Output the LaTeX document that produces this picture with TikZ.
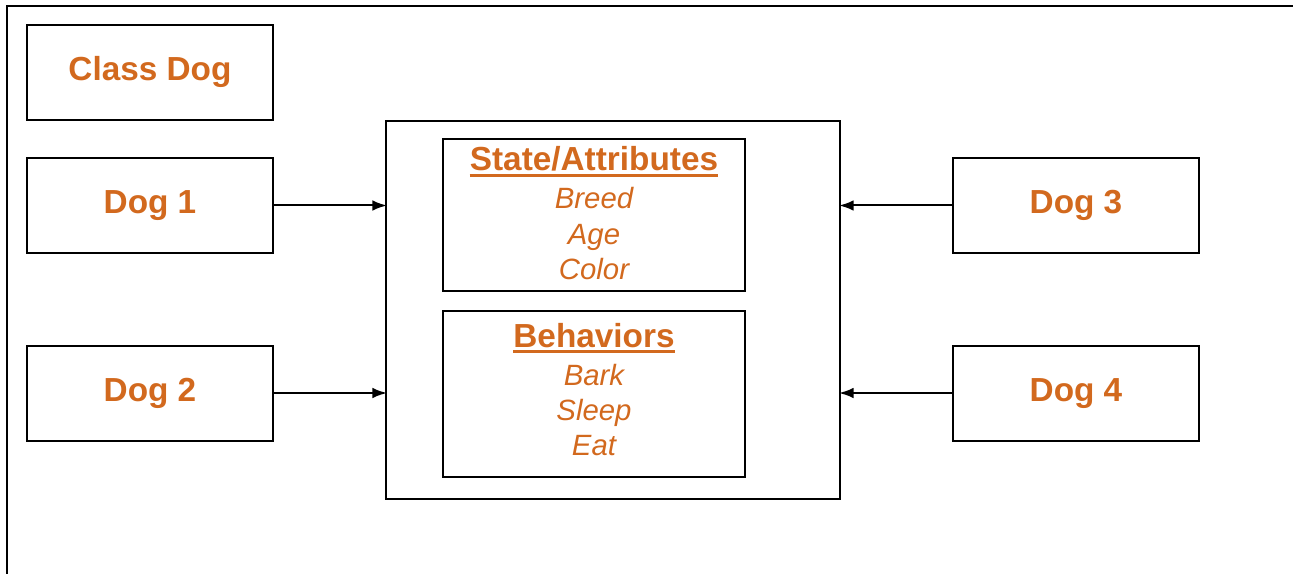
\documentclass[tikz,border=0pt]{standalone}
\usepackage{fontspec}
\setmainfont{Liberation Sans}
\usetikzlibrary{arrows.meta}
\definecolor{dogorange}{HTML}{D2691E}
\tikzset{
  box/.style={draw=black, line width=1.5pt, inner sep=0pt},
  dogbox/.style={box, minimum width=246*0.75pt, minimum height=95*0.75pt},
  dogname/.style={text=dogorange, font=\fontsize{25}{29}\selectfont\bfseries, inner sep=0pt, anchor=base},
  title/.style={text=dogorange, font=\fontsize{25}{29}\selectfont\bfseries, inner sep=0pt, anchor=base},
  item/.style={text=dogorange, font=\fontsize{22}{26}\selectfont\itshape, inner sep=0pt, anchor=base},
  uline/.style={dogorange, line width=2pt},
  link/.style={line width=1.5pt, shorten >=-1.5pt, -{Latex[length=11pt,width=8pt]}},
}
\begin{document}
\begin{tikzpicture}[x=0.75pt, y=-0.75pt]
\useasboundingbox (0,0) rectangle (1293,574);
% outer frame (open to the right and bottom)
\draw[line width=1.5pt] (7,574) -- (7,6) -- (1293,6);

% dog boxes
\node[dogbox] (cls) at (150,73) {};
\node[dogbox] (d1) at (150,205.5) {};
\node[dogbox] (d2) at (150,393) {};
\node[dogbox] (d3) at (1076,205.5) {};
\node[dogbox] (d4) at (1076,393) {};
\node[dogname] (clst) at (150,81) {Class Dog};
\node[dogname] (d1t) at (150,214) {Dog 1};
\node[dogname] (d2t) at (150,401) {Dog 2};
\node[dogname] (d3t) at (1076,214) {Dog 3};
\node[dogname] (d4t) at (1076,401) {Dog 4};

% class body
\node[box, minimum width=454*0.75pt, minimum height=378*0.75pt] (body) at (613,310) {};
\node[box, minimum width=302*0.75pt, minimum height=152*0.75pt] (state) at (594,215) {};
\node[box, minimum width=302*0.75pt, minimum height=166*0.75pt] (beh) at (594,394) {};

% state / attributes
\node[title] (st) at (594,171) {State/Attributes};
\draw[uline] ([yshift=-3.6pt]st.base west) -- ([yshift=-3.6pt]st.base east);
\node[item] (breed) at (594,209) {Breed};
\node[item] (age) at (594,244) {Age};
\node[item] (color) at (594,279) {Color};

% behaviors
\node[title] (bt) at (594,347) {Behaviors};
\draw[uline] ([yshift=-3.6pt]bt.base west) -- ([yshift=-3.6pt]bt.base east);
\node[item] (bark) at (594,385) {Bark};
\node[item] (sleep) at (594,420) {Sleep};
\node[item] (eat) at (594,455) {Eat};

% connectors
\draw[link] (d1.east) -- (d1.east -| body.west);
\draw[link] (d2.east) -- (d2.east -| body.west);
\draw[link] (d3.west) -- (d3.west -| body.east);
\draw[link] (d4.west) -- (d4.west -| body.east);
\end{tikzpicture}
\end{document}
